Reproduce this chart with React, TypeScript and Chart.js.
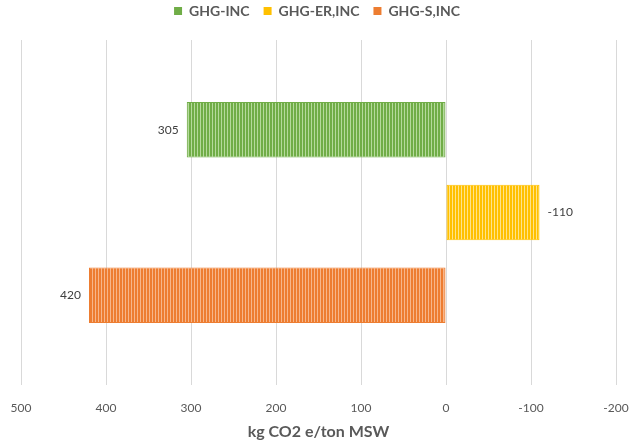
import React, { useEffect, useRef } from "react";
import { Chart, registerables } from "chart.js";

Chart.register(...registerables);

const categories = [""];
const seriesNames = ["GHG-INC", "GHG-ER,INC", "GHG-S,INC"];
const seriesValues = [305, -110, 420];
const baseColors = ["#70AD47", "#FFC000", "#ED7D31"];
const stripeColors = ["#B5DA9C", "#FFE38A", "#F7B68A"];
const tickMin = -200;
const tickMax = 500;

function makePattern(base: string, stripe: string): CanvasPattern | string {
  const c = document.createElement("canvas");
  c.width = 3;
  c.height = 4;
  const ctx = c.getContext("2d");
  if (!ctx) return base;
  ctx.fillStyle = base;
  ctx.fillRect(0, 0, 3, 4);
  ctx.fillStyle = stripe;
  ctx.fillRect(2, 0, 1, 4);
  const p = ctx.createPattern(c, "repeat");
  return p || base;
}

const FONT = "Lato, 'Open Sans', sans-serif";

const valueLabels = {
  id: "valueLabels",
  afterDatasetsDraw(chart: any) {
    const ctx = chart.ctx;
    ctx.save();
    ctx.font = `12px ${FONT}`;
    ctx.fillStyle = "#404040";
    ctx.textBaseline = "middle";
    chart.data.datasets.forEach((ds: any, i: number) => {
      const meta = chart.getDatasetMeta(i);
      meta.data.forEach((el: any, j: number) => {
        const v = ds.data[j] as number;
        if (v >= 0) {
          ctx.textAlign = "right";
          ctx.fillText(String(v), el.x - 8, el.y);
        } else {
          ctx.textAlign = "left";
          ctx.fillText(String(v), el.x + 8, el.y);
        }
      });
    });
    ctx.restore();
  },
};

const legendHeight = {
  id: "legendHeight",
  beforeInit(chart: any) {
    const legend = chart.legend;
    if (!legend) return;
    const orig = legend.fit;
    legend.fit = function () {
      orig.call(this);
      this.height = 50;
    };
  },
};

export default function App() {
  const ref = useRef<HTMLCanvasElement | null>(null);
  useEffect(() => {
    document.body.style.margin = "0";
    if (!ref.current) return;
    const datasets = seriesNames.map((name, i) => ({
      label: name,
      data: [seriesValues[i]],
      backgroundColor: makePattern(baseColors[i], stripeColors[i]),
      borderColor: baseColors[i],
      borderWidth: 1,
      borderSkipped: false,
      categoryPercentage: 0.72,
      barPercentage: 0.67,
    }));
    const chart = new Chart(ref.current, {
      type: "bar",
      data: { labels: categories, datasets },
      plugins: [valueLabels, legendHeight],
      options: {
        indexAxis: "y",
        animation: false,
        responsive: true,
        maintainAspectRatio: false,
        layout: { padding: { left: 6, right: 12, top: -10, bottom: 3.4 } },
        plugins: {
          legend: {
            position: "top",
            labels: {
              boxWidth: 8,
              boxHeight: 8,
              padding: 14,
              color: "#595959",
              font: { family: FONT, size: 14, weight: "bold" },
              generateLabels: (chart: any) =>
                chart.data.datasets.map((ds: any, i: number) => ({
                  text: ds.label,
                  fillStyle: baseColors[i],
                  strokeStyle: baseColors[i],
                  lineWidth: 0,
                  datasetIndex: i,
                  hidden: false,
                  fontColor: "#595959",
                })),
            },
          },
          tooltip: { enabled: false },
        },
        scales: {
          x: {
            reverse: true,
            min: tickMin,
            max: tickMax,
            afterFit: (s: any) => {
              s.paddingLeft = 21;
              s.paddingRight = 24;
            },
            ticks: {
              stepSize: 100,
              color: "#595959",
              font: { family: FONT, size: 12 },
              padding: 16,
            },
            grid: { color: "#D9D9D9", drawTicks: false },
            border: { display: false },
            title: {
              display: true,
              text: "kg CO2 e/ton MSW",
              color: "#595959",
              font: { family: FONT, size: 16, weight: "bold" },
              padding: { top: -9, bottom: 0 },
            },
          },
          y: {
            display: false,
          },
        },
      },
    });
    return () => chart.destroy();
  }, []);
  return (
    <div style={{ position: "fixed", left: 0, top: 0, width: 640, height: 445 }}>
      <canvas ref={ref} />
    </div>
  );
}
